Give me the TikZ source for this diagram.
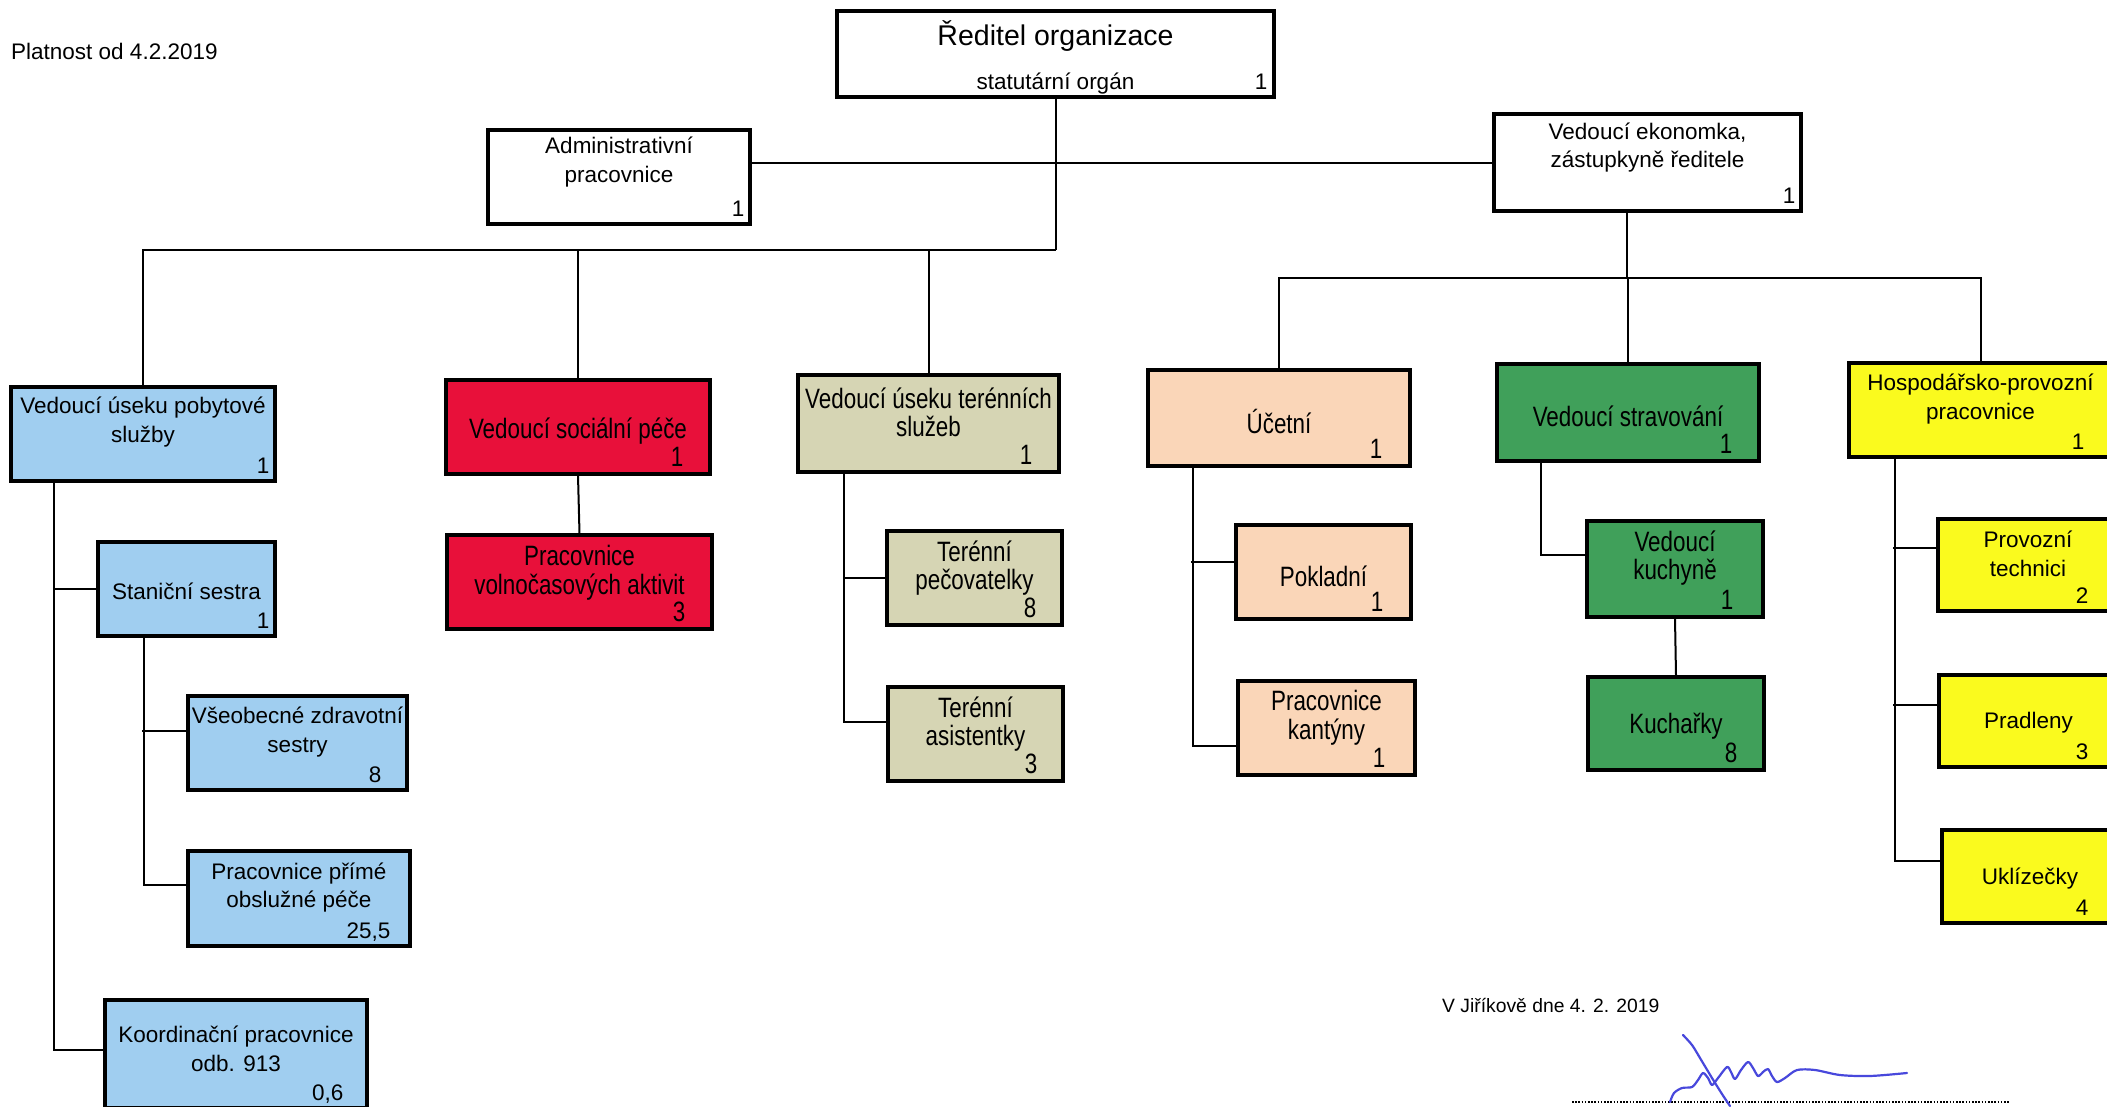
\documentclass[tikz,border=0pt]{standalone}
\usepackage{fontspec}
\setmainfont{Liberation Sans}
\newfontfamily\narrowfam[FakeStretch=0.8]{Liberation Sans}
\usetikzlibrary{fit}
\definecolor{cblue}{RGB}{160,206,240}
\definecolor{cred}{RGB}{232,16,58}
\definecolor{ckhaki}{RGB}{214,213,180}
\definecolor{cpeach}{RGB}{250,214,184}
\definecolor{cgreen}{RGB}{64,160,90}
\definecolor{cyellow}{RGB}{250,250,30}
\definecolor{csig}{RGB}{72,72,220}
\tikzset{
  box/.style={draw, line width=3.2pt, inner sep=0pt},
  conn/.style={line width=2pt},
  txt/.style={align=center, inner sep=0pt},
  regf/.style={font=\fontsize{22.5}{28.5}\selectfont},
  narf/.style={font=\narrowfam\fontsize{28}{28.5}\selectfont},
  whitebox/.style={regf, fill=white},
  bluebox/.style={regf, fill=cblue},
  yellowbox/.style={regf, fill=cyellow},
  redbox/.style={narf, fill=cred},
  khakibox/.style={narf, fill=ckhaki},
  peachbox/.style={narf, fill=cpeach},
  greenbox/.style={narf, fill=cgreen},
  sig/.style={draw=csig, line width=2.2pt, line cap=round, line join=round},
}
% name, corner1, corner2, style, text shift, text, number, number offset
\newcommand\orgbox[8]{%
  \node[box,#4,fit={(#2) (#3)}] (#1) {};
  \node[txt,#4,fill=none,yshift=#5pt] (#1-t) at (#1.center) {#6};
  \node[txt,#4,fill=none,anchor=base east] (#1-n) at ([xshift=-#8pt,yshift=9pt]#1.south east) {#7};
}
\begin{document}
\begin{tikzpicture}[x=1pt,y=-1pt]
\fill[white] (0,0) rectangle (2107,1106);
\useasboundingbox (0,0) rectangle (2107,1106);

% header text
\node[regf, anchor=west, inner sep=0pt] (plat) at (11,51) {Platnost od 4.2.2019};

% director
\node[box, fill=white, fit={(837,11) (1274,97)}] (dir) {};
\node[txt, font=\fontsize{28.5}{32}\selectfont, yshift=-27pt] (dir-t) at (dir.north) {Ředitel organizace};
\node[txt, regf, anchor=base, yshift=9pt] (dir-s) at (dir.south) {statutární orgán};
\node[txt, regf, anchor=base east] (dir-n) at ([xshift=-8pt,yshift=9pt]dir.south east) {1};

% second level
\orgbox{adm}{488,130}{750,224}{whitebox}{15}{Administrativní\\pracovnice}{1}{7}
\orgbox{eko}{1494,114}{1801,211}{whitebox}{15}{Vedoucí ekonomka,\\zástupkyně ředitele}{1}{7}

% left branch
\orgbox{pob}{11,387}{275,481}{bluebox}{12}{Vedoucí úseku pobytové\\služby}{1}{7}
\orgbox{sta}{98,542}{275,636}{bluebox}{-2}{Staniční sestra}{1}{7}
\orgbox{vse}{188,696}{407,790}{bluebox}{11}{Všeobecné zdravotní\\sestry}{8}{27}
\orgbox{pri}{188,851}{410,946}{bluebox}{11}{Pracovnice přímé\\obslužné péče}{25,5}{21}
\orgbox{koo}{105,1000}{367,1108}{bluebox}{5}{Koordinační pracovnice\\odb. 913}{0,6}{25}

\orgbox{soc}{446,380}{710,474}{redbox}{-4}{Vedoucí sociální péče}{1}{28}
\orgbox{vol}{447,535}{712,629}{redbox}{9}{Pracovnice\\volnočasových aktivit}{3}{28}

\orgbox{ter}{798,375}{1059,472}{khakibox}{11}{Vedoucí úseku terénních\\služeb}{1}{28}
\orgbox{pec}{887,531}{1062,625}{khakibox}{10}{Terénní\\pečovatelky}{8}{27}
\orgbox{asi}{888,687}{1063,781}{khakibox}{10}{Terénní\\asistentky}{3}{27}

% right branch
\orgbox{uce}{1148,370}{1410,466}{peachbox}{-3}{Účetní}{1}{29}
\orgbox{pok}{1236,525}{1411,619}{peachbox}{-4}{Pokladní}{1}{29}
\orgbox{kan}{1238,681}{1415,775}{peachbox}{10}{Pracovnice\\kantýny}{1}{31}

\orgbox{str}{1497,364}{1759,461}{greenbox}{-4}{Vedoucí stravování}{1}{28}
\orgbox{kuc}{1587,521}{1763,617}{greenbox}{11}{Vedoucí\\kuchyně}{1}{31}
\orgbox{kch}{1588,677}{1764,770}{greenbox}{-3}{Kuchařky}{8}{28}

\orgbox{hos}{1849,363}{2112,457}{yellowbox}{11}{Hospodářsko-provozní\\pracovnice}{1}{29}
\orgbox{pro}{1938,519}{2118,611}{yellowbox}{11}{Provozní\\technici}{2}{31}
\orgbox{pra}{1939,675}{2118,767}{yellowbox}{-2}{Pradleny}{3}{31}
\orgbox{ukl}{1942,830}{2118,923}{yellowbox}{-2}{Uklízečky}{4}{31}

% connectors, top
\coordinate (jL) at (1055.5,250);
\coordinate (jR) at (1627,278);
\draw[conn] (dir.south) -- (jL);
\draw[conn] (pob.north) |- (jL);
\draw[conn] (soc.north) -- (soc.north |- jL);
\draw[conn] (ter.north) -- (ter.north |- jL);
\draw[conn] (adm.east |- eko.west) -- (eko.west);
\draw[conn] (eko.south -| jR) -- (jR);
\draw[conn] (uce.north) |- (jR) -| (hos.north);
\draw[conn] (str.north) -- (str.north |- jR);

% subtrees
\coordinate (pbx) at (54,481);
\draw[conn] (pbx) |- ([yshift=4pt]koo.west);
\draw[conn] (pbx |- sta.west) -- (sta.west);
\coordinate (sbx) at (144,636);
\draw[conn] (sbx) |- ([yshift=14pt]pri.west);
\draw[conn] ([yshift=12pt]vse.west) -- +(-44,0);

\draw[conn] (soc.south) -- (vol.north);

\coordinate (tbx) at (844,472);
\draw[conn] (tbx) |- ([yshift=12pt]asi.west);
\draw[conn] (tbx |- pec.west) -- (pec.west);

\coordinate (ubx) at (1193,466);
\draw[conn] (ubx) |- ([yshift=-18pt]kan.west);
\draw[conn] ([yshift=10pt]pok.west) -- +(-43,0);

\coordinate (kbx) at (1541,461);
\draw[conn] (kbx) |- ([yshift=14pt]kuc.west);
\draw[conn] (kuc.south) -- (kch.north);

\coordinate (hbx) at (1895,457);
\draw[conn] (hbx) |- ([yshift=16pt]ukl.west);
\draw[conn] ([yshift=17pt]pro.west) -- +(-43,0);
\draw[conn] ([yshift=16pt]pra.west) -- +(-44,0);

% footer
\node[font=\fontsize{19.3}{22}\selectfont, anchor=west, inner sep=0pt] (date) at (1442,1005) {V Jiříkově dne 4. 2. 2019};
\draw[line width=2.2pt, dash pattern=on 1.6pt off 1.6pt] (1572,1102) -- (2009,1102);
\draw[sig] plot[smooth, tension=0.5] coordinates {(1683,1035) (1692,1045) (1700,1058) (1712,1078) (1722,1094) (1730,1106)};
\draw[sig] plot[smooth, tension=0.5] coordinates {(1670,1102) (1674,1093) (1682,1088) (1692,1087) (1698,1080) (1703,1073) (1708,1078) (1712,1085) (1718,1078) (1727,1067) (1731,1072) (1735,1079) (1741,1070) (1748,1062) (1753,1068) (1758,1076) (1763,1072) (1768,1069) (1772,1076) (1777,1082) (1785,1078) (1797,1070) (1815,1070) (1840,1075) (1870,1076) (1907,1073)};
\end{tikzpicture}
\end{document}
